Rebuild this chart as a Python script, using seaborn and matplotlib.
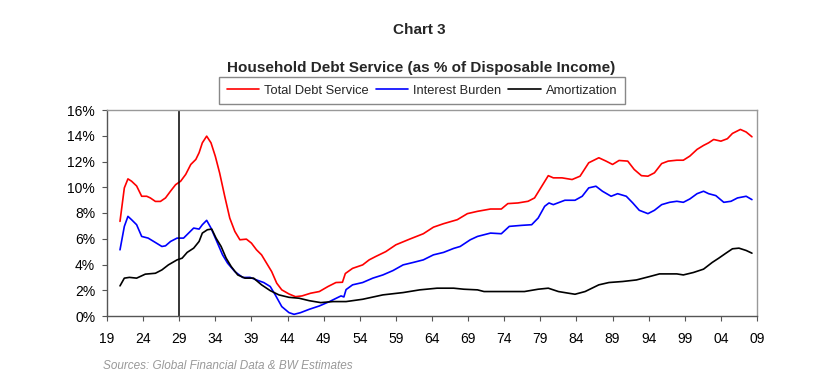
import matplotlib
matplotlib.use("Agg")
import matplotlib.pyplot as plt
import seaborn as sns
import pandas as pd
import numpy as np
from matplotlib.lines import Line2D

# ---- data ----
total_years = [1920.8, 1921.4, 1921.9, 1922.4, 1923.1, 1923.8, 1924.5, 1925.0, 1925.7, 1926.4,
               1927.1, 1927.8, 1928.5, 1929.2, 1929.9, 1930.6, 1931.3, 1931.75, 1932.2, 1932.8,
               1933.4, 1934.0, 1934.6, 1935.3, 1936.0, 1936.7, 1937.4, 1938.3, 1939.0, 1939.7,
               1940.4, 1941.1, 1941.8, 1942.5, 1943.2, 1944.2, 1945.1, 1946.0, 1947.2, 1948.4,
               1949.6, 1950.7, 1951.6, 1952.0, 1953.0, 1954.4, 1955.3, 1956.2, 1957.6, 1959.0,
               1960.9, 1962.8, 1964.2, 1965.6, 1967.5, 1968.9, 1970.3, 1972.1, 1973.6, 1974.5,
               1975.9, 1977.3, 1978.2, 1979.2, 1980.1, 1980.8, 1982.0, 1983.4, 1984.5, 1985.7,
               1987.1, 1988.1, 1989.0, 1989.9, 1991.1, 1992.0, 1993.0, 1993.9, 1994.8, 1995.8,
               1996.7, 1997.9, 1998.8, 1999.7, 2000.7, 2001.6, 2002.3, 2003.0, 2004.0, 2004.9,
               2005.6, 2006.7, 2007.5, 2008.3]
total = [7.35, 9.95, 10.65, 10.47, 10.10, 9.30, 9.30, 9.17, 8.90, 8.90,
         9.17, 9.70, 10.20, 10.47, 11.00, 11.77, 12.16, 12.68, 13.45, 13.97,
         13.45, 12.40, 11.10, 9.30, 7.60, 6.57, 5.92, 5.97, 5.66, 5.14,
         4.75, 4.10, 3.45, 2.55, 2.03, 1.71, 1.50, 1.56, 1.77, 1.90,
         2.29, 2.60, 2.62, 3.30, 3.70, 3.97, 4.36, 4.62, 5.00, 5.53,
         5.97, 6.39, 6.90, 7.17, 7.48, 7.95, 8.13, 8.31, 8.31, 8.73,
         8.78, 8.91, 9.17, 10.08, 10.90, 10.73, 10.73, 10.60, 10.86, 11.90,
         12.29, 12.03, 11.77, 12.08, 12.03, 11.38, 10.90, 10.86, 11.12, 11.84,
         12.03, 12.10, 12.10, 12.42, 12.94, 13.25, 13.45, 13.71, 13.58, 13.77,
         14.18, 14.49, 14.29, 13.92]

interest_years = [1920.8, 1921.4, 1921.9, 1922.4, 1923.1, 1923.8, 1924.7, 1925.7, 1926.6, 1927.1,
                  1927.8, 1928.7, 1929.6, 1930.3, 1931.0, 1931.75, 1932.2, 1932.8, 1933.4, 1934.3,
                  1935.0, 1935.7, 1936.7, 1937.8, 1938.8, 1939.7, 1940.7, 1941.6, 1942.3, 1943.2,
                  1944.2, 1944.9, 1945.8, 1947.0, 1948.4, 1949.8, 1951.0, 1951.4, 1951.8, 1952.1,
                  1953.0, 1954.4, 1955.8, 1957.2, 1958.6, 1960.0, 1961.4, 1962.8, 1964.2, 1965.6,
                  1967.0, 1967.9, 1969.3, 1970.3, 1972.1, 1973.6, 1974.7, 1976.4, 1977.8, 1978.7,
                  1979.6, 1980.2, 1980.8, 1982.4, 1983.8, 1984.8, 1985.7, 1986.7, 1987.6, 1988.8,
                  1989.7, 1990.9, 1991.8, 1992.7, 1993.9, 1994.8, 1995.8, 1996.9, 1997.9, 1998.8,
                  1999.7, 2000.7, 2001.6, 2002.3, 2003.3, 2004.4, 2005.4, 2006.3, 2007.5, 2008.3]
interest = [5.14, 6.96, 7.74, 7.48, 7.09, 6.18, 6.05, 5.71, 5.40, 5.45,
            5.79, 6.05, 6.05, 6.44, 6.83, 6.75, 7.09, 7.43, 6.83, 5.66,
            4.75, 4.10, 3.45, 2.99, 3.00, 2.80, 2.60, 2.29, 1.64, 0.73,
            0.26, 0.13, 0.26, 0.52, 0.78, 1.12, 1.45, 1.56, 1.48, 2.05,
            2.42, 2.60, 2.94, 3.19, 3.53, 3.97, 4.16, 4.36, 4.75, 4.94,
            5.25, 5.40, 5.92, 6.18, 6.44, 6.39, 6.96, 7.04, 7.09, 7.61,
            8.52, 8.78, 8.65, 8.99, 8.99, 9.30, 9.95, 10.08, 9.69, 9.30,
            9.50, 9.30, 8.78, 8.21, 7.95, 8.21, 8.65, 8.83, 8.91, 8.83,
            9.09, 9.50, 9.69, 9.50, 9.35, 8.83, 8.91, 9.17, 9.30, 9.04]

amort_years = [1920.8, 1921.4, 1922.1, 1923.1, 1924.3, 1925.7, 1926.6, 1927.5, 1928.7, 1929.4,
               1930.1, 1931.0, 1931.75, 1932.2, 1932.9, 1933.5, 1934.1, 1934.8, 1935.5, 1936.2,
               1937.1, 1938.1, 1939.3, 1940.4, 1941.6, 1942.8, 1944.2, 1945.6, 1947.0, 1948.6,
               1950.3, 1952.1, 1954.4, 1957.2, 1960.0, 1962.3, 1964.7, 1967.0, 1968.4, 1970.3,
               1971.2, 1974.0, 1976.8, 1978.7, 1980.1, 1981.5, 1982.9, 1983.8, 1985.2, 1987.1,
               1988.5, 1990.4, 1992.3, 1994.1, 1995.5, 1997.9, 1998.8, 2000.2, 2001.6, 2002.8,
               2003.7, 2004.7, 2005.6, 2006.5, 2007.5, 2008.3]
amort = [2.34, 2.94, 3.00, 2.94, 3.25, 3.32, 3.58, 3.97, 4.36, 4.49,
         4.94, 5.27, 5.79, 6.44, 6.70, 6.75, 6.05, 5.40, 4.49, 3.84,
         3.19, 2.94, 2.94, 2.42, 1.97, 1.64, 1.45, 1.38, 1.19, 1.04,
         1.12, 1.12, 1.30, 1.64, 1.82, 2.03, 2.16, 2.16, 2.08, 2.03,
         1.90, 1.90, 1.90, 2.08, 2.16, 1.90, 1.77, 1.69, 1.90, 2.42,
         2.60, 2.68, 2.80, 3.06, 3.27, 3.27, 3.19, 3.38, 3.64, 4.16,
         4.49, 4.88, 5.22, 5.27, 5.09, 4.88]

series_names = ["Total Debt Service", "Interest Burden", "Amortization"]
series_colors = ["#ff0000", "#0000ff", "#000000"]
x_ticks = list(range(1919, 2010, 5))
x_tick_labels = [f"{t % 100:02d}" for t in x_ticks]
y_ticks = [0, 2, 4, 6, 8, 10, 12, 14, 16]
marker_year = 1929

df = pd.concat([
    pd.DataFrame({"year": total_years, "value": total, "series": series_names[0]}),
    pd.DataFrame({"year": interest_years, "value": interest, "series": series_names[1]}),
    pd.DataFrame({"year": amort_years, "value": amort, "series": series_names[2]}),
], ignore_index=True)

sns.set_theme(style="white")
plt.rcParams["font.family"] = ["Liberation Sans", "DejaVu Sans"]

fig = plt.figure(figsize=(8.32, 3.79), dpi=100)
ax = fig.add_axes([107 / 832, 1 - 316 / 379, (757 - 107) / 832, (316 - 110) / 379])

sns.lineplot(data=df, x="year", y="value", hue="series", hue_order=series_names,
             palette=dict(zip(series_names, series_colors)), linewidth=1.2,
             ax=ax, legend=False, estimator=None, sort=False)

ax.axvline(marker_year, color="black", linewidth=1.1)

ax.set_xlim(1919, 2009)
ax.set_ylim(0, 16)
ax.set_xticks(x_ticks)
ax.set_xticklabels(x_tick_labels)
ax.set_yticks(y_ticks)
ax.set_yticklabels([f"{v}%" for v in y_ticks])
ax.set_xlabel("")
ax.set_ylabel("")
ax.tick_params(axis="both", which="major", direction="out", length=3.5, width=0.8,
               colors="#555555", labelsize=10, labelcolor="black")
ax.tick_params(axis="y", pad=5)
ax.tick_params(axis="x", pad=8)
ax.tick_params(bottom=True, left=True)

for side in ["left", "bottom"]:
    ax.spines[side].set_color("#555555")
    ax.spines[side].set_linewidth(1.0)
for side in ["top", "right"]:
    ax.spines[side].set_color("#999999")
    ax.spines[side].set_linewidth(1.0)

handles = [Line2D([0], [0], color=c, linewidth=1.2) for c in series_colors]
leg = fig.legend(handles, series_names, ncol=3, loc="center",
                 bbox_to_anchor=(422 / 832, 1 - 90.5 / 379), frameon=True, fancybox=False,
                 fontsize=9.3, handlelength=2.5, handletextpad=0.4, columnspacing=0.55,
                 borderpad=0.55, edgecolor="#888888", framealpha=1)
leg.get_frame().set_linewidth(1.0)

fig.text(419 / 832, 1 - 34 / 379, "Chart 3", ha="center", va="baseline",
         fontsize=11, fontweight="bold")
fig.text(421 / 832, 1 - 72 / 379, "Household Debt Service (as % of Disposable Income)",
         ha="center", va="baseline", fontsize=11, fontweight="bold")
fig.text(103 / 832, 1 - 366 / 379, "Sources: Global Financial Data & BW Estimates",
         ha="left", va="center", fontsize=8.5, style="italic", color="#999999")

fig.savefig("out.png", dpi=100)
